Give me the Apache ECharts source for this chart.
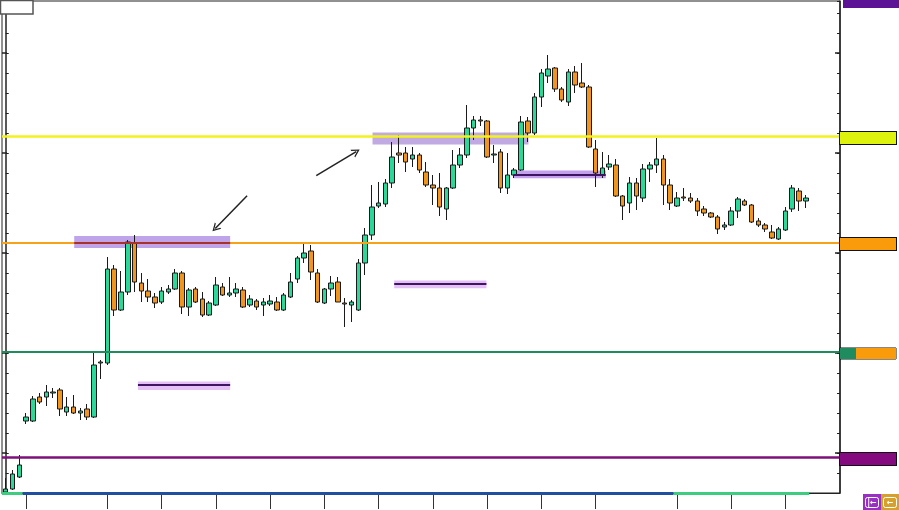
<!DOCTYPE html>
<html><head><meta charset="utf-8">
<script src="https://cdn.jsdelivr.net/npm/echarts@6/dist/echarts.min.js"></script>
<style>html,body{margin:0;padding:0;background:#fff;overflow:hidden}#c{width:899px;height:510px}</style>
</head><body><div id="c"></div>
<script>
// ---- data (price units) ----
const opens  = [0.5,2,8,36,36,48,48,50,51.5,40.5,43,40,42,38,65,65,112,91.5,100.5,125,105,101,98,95.5,100.5,102,110,93,102,97,89,94,103,99,100,101.5,94,96,94,94.5,95.5,91.5,98,107,117.5,121,110,95,102,105.5,95,94,91.5,115,129,143.5,144.5,155,170,170,167,169,160.5,154,152.5,142,152.5,164,169,182.5,186.5,186,169,170.5,152.5,159,161.5,186,180,198,208.5,212.5,202,195.5,210.5,205,203,172,159,163,164,148.5,145,155,147.5,162,164,167,154,143.5,148,147.5,146,142,140,138,133,134,141,146,144,136,134,130.5,127,131.5,142,151,146];
const closes = [2,9.5,14,38,47,45.5,50.5,50.5,42,43,40,41,38,64,65.5,112,91.5,100.5,125.5,105.5,101,98,95,101,102,110,93,101.5,95.5,89,95,104,99,100,102,93,97,93,95.5,96,91.5,99,105.5,117.5,120,110.5,95.5,102,105,95.5,94.5,95.5,115,129,143,145,155,168,169,165.5,169,161.5,154,152.5,143,152.5,164,169,182.5,186.5,186,168,169.5,152.5,159,161.5,185.5,180,198,210,212,202,196.5,210.5,204,203,173,160,162.5,164.5,148.5,143.5,155,148.5,162,164,167,154,145,147.5,147.5,146,141,140,138,132,134,141,147,144,135.5,134,132,127.5,132,141,152.5,146,147.5];
const lows   = [0,1.5,7.5,34.5,35.5,44.5,43.5,47.5,38.5,38.5,39.5,36.5,36.5,37.5,57,64,88.5,91,99,100.5,95.5,95.5,92.5,94.5,99.5,101.5,89.5,88.5,95,88,88.5,93.5,98.5,98,98,92.5,93,91.5,88.5,93.5,91,91,97.5,105,115,106.5,95,94.5,98.5,95.5,83,85.5,91,109,126.5,142.5,143,152.5,165,160.5,163,160,153,144,138.5,136.5,152,162.5,167.5,176.5,183.5,167.5,165,150,149.5,157.5,161,175.5,179,193,205,200.5,195.5,193.5,200,202.5,172.5,153,157.5,161.5,148,136.5,140,141.5,145.5,155.5,160,144,141.5,143,146,145,138.5,138.5,137.5,129.5,131.5,133.5,137.5,143.5,135,133,130.5,127,126.5,131,140.5,141,142.5];
const highs  = [7.5,11.5,19,40,48.5,50,54,52.5,52.5,48,49,42.5,44.5,70,66.5,118,114,111,126.5,129,110,107,100,103,104,112,111,102.5,103,100.5,96,108,105,108,105,103,99,97,97.5,99,98,100,110,118.5,124.5,124,112,102.5,108.5,108,97.5,96.5,117,132.5,154,155.5,157,175.5,179,173,173,170,165.5,159,160,153,171.5,172.5,194,188.5,188.5,186.5,174,172,170,162.5,188.5,188,200,212,219,213,203,212,213.5,215,204,176.5,170.5,169,167,149,158,157.5,164.5,165.5,177.5,169,157,150.5,152.5,150,147.5,143.5,140.5,139,135.5,143,148,147,144.5,137.5,135,134,133,143,154,152.5,149];
const sessionStarts = [3,15,23,31,39,47,55,63,71,79,87,99,107,115];  // bottom tick marks (bar index)
const majorPriceTicks = [20,70,120,170,220];
const levelValues = [178.2, 125.3, 70.5, 17.7, 244.5];   // yellow, orange, green, purple, off-top purple
const zoneX0   = [10.1, 54.1, 57.3, 19.5, 74.9];
const zoneX1   = [33.1, 77.1, 70.9, 33.1, 88.5];
const zoneLow  = [122.5, 174.3, 102.4, 51.5, 157.4];
const zoneHigh = [128.5, 180.3, 106.2, 55.7, 161.2];
const zoneMid  = [125.3, null, 104.7, 54.0, 159.0];
const arrowTail = [[35.6, 148.6], [45.8, 158.7]];
const arrowHead = [[30.9, 132.3], [51.7, 170.7]];
const sessionBar = [-0.55, 2.5, 98.5, 118.5];

// ---- styles / layout ----
const X_MIN = -0.55, X_MAX = 123.05;
const UP = '#2ad99a', DOWN = '#f0961e', INK = '#1a1a1a';
const levelStyles = [
  {color:'#f2f21c', width:2.5, box:'#ddf20c', border:'#111'},
  {color:'#f7a21b', width:2, box:'#f99b0b', border:'#111'},
  {color:'#1e8c5e', width:2, box:null, border:'#111'},
  {color:'#7e0f7b', width:2.5, box:'#850a7f', border:'#111'},
  {color:'rgba(0,0,0,0)', width:1, box:'#5c1395', border:null}
];
const zoneFill = ['rgba(140,90,215,0.55)','rgba(140,100,200,0.55)','rgba(205,140,240,0.55)','rgba(205,140,240,0.55)','rgba(165,110,230,0.65)'];
const zoneMidColor = ['#a8322a', null, '#3d1560', '#3d1560', '#3d1560'];
const sessionColors = ['#3dcc80', '#1f4fa0', '#3dcc80'];

const chart = echarts.init(document.getElementById('c'), null, {renderer:'canvas'});

const levelData = levelValues.map((v, i) => {
  const s = levelStyles[i];
  let label;
  if (s.box === null) {
    label = {show:true, position:'end', distance:0, offset:[0,1.5], formatter:'{g| }{o| }', padding:0,
      borderColor:s.border, borderWidth:1,
      rich:{g:{backgroundColor:'#1e8c5e', width:16, height:11}, o:{backgroundColor:'#f99b0b', width:40, height:11}}};
  } else {
    label = {show:true, position:'end', distance: s.border ? 0 : 3, offset: s.border ? [0,1.5] : [0,0], formatter:' ', padding:0,
      backgroundColor:s.box, width:56, height: s.border ? 12 : 8,
      borderColor: s.border || 'transparent', borderWidth: s.border ? 1 : 0};
  }
  return {yAxis:v, lineStyle:{color:s.color, width:s.width, type:'solid'}, label};
});

const zoneAreas = zoneX0.map((x0, i) => [
  {coord:[x0, zoneHigh[i]], itemStyle:{color:zoneFill[i]}},
  {coord:[zoneX1[i], zoneLow[i]]}
]);
const zoneLines = [];
zoneMid.forEach((m, i) => {
  if (m === null) return;
  zoneLines.push([{coord:[zoneX0[i], m], lineStyle:{color:zoneMidColor[i], width:2, type:'solid'}}, {coord:[zoneX1[i], m]}]);
});
const arrowLines = arrowTail.map((t, i) => [{coord:t}, {coord:arrowHead[i]}]);
const sessionLines = [];
for (let i = 0; i < sessionBar.length - 1; i++) {
  sessionLines.push([{coord:[sessionBar[i], 0], lineStyle:{color:sessionColors[i], width:3, type:'solid'}}, {coord:[sessionBar[i+1], 0]}]);
}

const yBase = {type:'value', min:0, max:246, interval:10, splitLine:{show:false}, axisLabel:{show:false}};
chart.setOption({
  animation:false,
  backgroundColor:'#fff',
  grid:{left:2, right:59, top:1, bottom:17, show:true, borderColor:'#222', borderWidth:1, backgroundColor:'transparent'},
  xAxis:[
    {type:'value', min:X_MIN, max:X_MAX,
     axisLine:{show:true, onZero:false, lineStyle:{color:'#222', width:1}},
     axisTick:{show:true, length:16, customValues:sessionStarts, lineStyle:{color:'#333', width:1}},
     axisLabel:{show:false}, splitLine:{show:false}}
  ],
  yAxis:[
    Object.assign({}, yBase, {position:'left', axisLine:{show:true, lineStyle:{color:'#222', width:1.5}}, axisTick:{show:true, inside:true, length:3, lineStyle:{color:'#222'}}}),
    Object.assign({}, yBase, {position:'right', axisLine:{show:true, lineStyle:{color:'#222', width:1.5}}, axisTick:{show:true, inside:true, length:3, lineStyle:{color:'#222'}}}),
    Object.assign({}, yBase, {position:'left', axisLine:{show:false}, axisTick:{show:true, inside:true, length:5, customValues:majorPriceTicks, lineStyle:{color:'#222', width:1.5}}}),
    Object.assign({}, yBase, {position:'right', axisLine:{show:false}, axisTick:{show:true, inside:true, length:5, customValues:majorPriceTicks, lineStyle:{color:'#222', width:1.5}}})
  ],
  series:[
    {type:'line', name:'levels', data:[], z:1, clip:false, silent:true,
     markLine:{silent:true, symbol:['none','none'], lineStyle:{type:'solid'}, data:levelData}},
    {type:'candlestick', name:'price', z:3, barWidth:5,
     data: opens.map((o, i) => [i, o, closes[i], lows[i], highs[i]]),
     encode:{x:0, y:[1,2,3,4]},
     itemStyle:{color:UP, color0:DOWN, borderColor:INK, borderColor0:INK, borderWidth:1}},
    {type:'line', name:'zones', data:[], z:4, clip:false, silent:true,
     markArea:{silent:true, data:zoneAreas},
     markLine:{silent:true, symbol:['none','none'], label:{show:false}, lineStyle:{type:'solid'}, data:zoneLines}},
    {type:'line', name:'arrows', data:[], z:5, clip:false, silent:true,
     markLine:{silent:true, symbol:['none','path://M0,10L5,0L10,10L8.4,10L5,3.2L1.6,10Z'], symbolSize:[9,8],
       label:{show:false}, lineStyle:{color:'#222', width:1.5, type:'solid'}, data:arrowLines}},
    {type:'line', name:'sessions', data:[], z:6, clip:false, silent:true,
     markLine:{silent:true, symbol:['none','none'], label:{show:false}, lineStyle:{type:'solid'}, data:sessionLines}}
  ],
  graphic:[
    {type:'rect', shape:{x:0.5, y:0.5, width:32.5, height:13.5}, style:{fill:'#fff', stroke:'#555', lineWidth:1.5}, z:100},
    {type:'group', left:863, top:494, z:100, children:[
      {type:'rect', shape:{x:0, y:0, width:18, height:16}, style:{fill:'#9a2fc4'}},
      {type:'rect', shape:{x:2.5, y:3.5, width:13, height:10, r:2}, style:{fill:'none', stroke:'#fff', lineWidth:1}},
      {type:'text', style:{x:9, y:8.5, text:'|←', fill:'#fff', font:'bold 8px DejaVu Sans', align:'center', verticalAlign:'middle'}},
      {type:'rect', shape:{x:18, y:0, width:18, height:16}, style:{fill:'#d6a12a'}},
      {type:'rect', shape:{x:20.5, y:3.5, width:13, height:10, r:2}, style:{fill:'none', stroke:'#fff', lineWidth:1}},
      {type:'text', style:{x:27, y:8.5, text:'←', fill:'#fff', font:'bold 8px DejaVu Sans', align:'center', verticalAlign:'middle'}}
    ]}
  ]
});
</script></body></html>
